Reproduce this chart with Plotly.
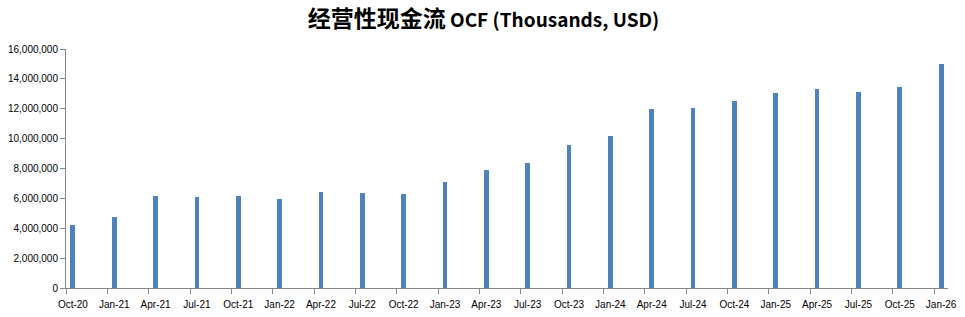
import plotly.graph_objects as go

# Data
quarters = ["Oct-20", "Jan-21", "Apr-21", "Jul-21", "Oct-21", "Jan-22", "Apr-22", "Jul-22",
            "Oct-22", "Jan-23", "Apr-23", "Jul-23", "Oct-23", "Jan-24", "Apr-24", "Jul-24",
            "Oct-24", "Jan-25", "Apr-25", "Jul-25", "Oct-25", "Jan-26"]
ocf = [4240000, 4770000, 6180000, 6110000, 6180000, 5980000, 6450000, 6380000,
       6310000, 7120000, 7920000, 8390000, 9590000, 10200000, 12000000, 12070000,
       12540000, 13070000, 13340000, 13140000, 13480000, 15020000]
y_ticks = [0, 2000000, 4000000, 6000000, 8000000, 10000000, 12000000, 14000000, 16000000]

# Excel-style date axis with monthly base unit: each quarter point sits in its month slot
months_per_step = 3
month_idx = [i * months_per_step for i in range(len(quarters))]
bar_x = [m + 0.5 for m in month_idx]
n_months = month_idx[-1] + 1

fig = go.Figure()
fig.add_trace(go.Bar(
    x=bar_x, y=ocf,
    width=0.35,
    marker=dict(color="#4F81BD", line=dict(width=0)),
    hovertext=quarters,
))

axis_font = dict(family="Liberation Sans, Arial, sans-serif", size=10, color="#000000")

fig.update_layout(
    width=965, height=317,
    margin=dict(l=66, r=17, t=49, b=29, autoexpand=False),
    paper_bgcolor="white", plot_bgcolor="white",
    showlegend=False,
    title=dict(
        text="<b><span style='font-size:23px'>经营性现金流</span> OCF (Thousands, USD)</b>",
        x=(305 + 662) / 2 / 965, xanchor="center", xref="container",
        y=1 - 20 / 317, yanchor="middle", yref="container",
        font=dict(family="Noto Sans CJK SC, Noto Sans, sans-serif", size=19, color="#000000"),
    ),
    xaxis=dict(
        range=[0, n_months],
        tickmode="array", tickvals=bar_x, ticktext=quarters,
        ticks="outside", ticklen=7, tickcolor="rgba(0,0,0,0)", tickwidth=1,
        minor=dict(tickmode="array", tickvals=month_idx, ticks="outside",
                   ticklen=5, tickcolor="#868686", tickwidth=1, showgrid=False),
        showline=True, linecolor="#868686", linewidth=1,
        showgrid=False, zeroline=False, automargin=False,
        tickfont=axis_font, tickangle=0,
    ),
    yaxis=dict(
        range=[0, 16000000],
        tickmode="array", tickvals=y_ticks,
        tickformat=",d",
        ticks="outside", ticklen=5, tickcolor="#868686", tickwidth=1,
        showline=True, linecolor="#868686", linewidth=1,
        showgrid=False, zeroline=False, automargin=False,
        tickfont=axis_font,
    ),
    bargap=0,
)

fig.write_html("out.html")
